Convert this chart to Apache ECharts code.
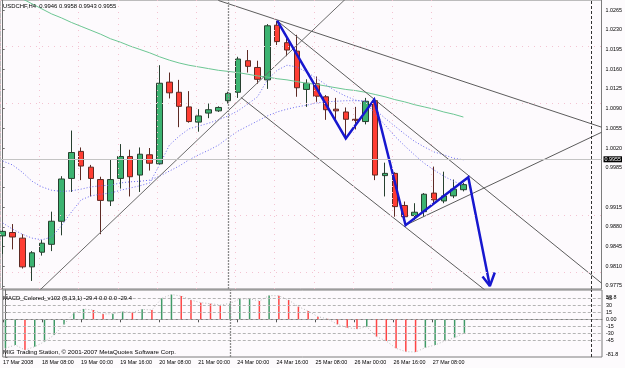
<!DOCTYPE html>
<html lang="en">
<head>
<meta charset="UTF-8">
<title>USDCHF H4</title>
<script src="https://cdn.jsdelivr.net/npm/echarts@6/dist/echarts.min.js"></script>
<style>
  html, body { margin: 0; padding: 0; background: #fdfbfd; }
  #chart { width: 625px; height: 368px; }
</style>
</head>
<body>
<div id="chart"></div>
<script>
// H4 bars, one per index 0..47
const opens = [
  0.9864, 0.9870, 0.9860, 0.9809, 0.9835, 0.9849, 0.9890, 0.9966, 1.0014, 0.9986,
  0.9964, 0.9926, 0.9966, 1.0005, 0.9972, 1.0008, 0.9992, 1.0137, 1.0119, 1.0093,
  1.0066, 1.0082, 1.0086, 1.0104, 1.0119, 1.0175, 1.0163, 1.0141, 1.0238, 1.0207,
  1.0192, 1.0124, 1.0134, 1.0111, 1.0089, 1.0084, 1.0071, 1.0067, 1.0104, 0.9971,
  0.9975, 0.9918, 0.9900, 0.9907, 0.9940, 0.9926, 0.9935, 0.9946
];
const closes = [
  0.9872, 0.9862, 0.9809, 0.9834, 0.9851, 0.9890, 0.9965, 1.0012, 0.9988, 0.9966,
  0.9927, 0.9964, 1.0005, 0.9969, 1.0009, 0.9993, 1.0135, 1.0118, 1.0094, 1.0067,
  1.0077, 1.0088, 1.0092, 1.0117, 1.0178, 1.0165, 1.0142, 1.0237, 1.0209, 1.0194,
  1.0127, 1.0135, 1.0112, 1.0088, 1.0086, 1.0071, 1.0069, 1.0103, 0.9972, 0.9975,
  0.9916, 0.9898, 0.9906, 0.9938, 0.9928, 0.9935, 0.9947, 0.9955
];
const lows = [
  0.9832, 0.9840, 0.9806, 0.9784, 0.9829, 0.9837, 0.9865, 0.9942, 0.9963, 0.9934,
  0.9867, 0.9917, 0.9948, 0.9934, 0.9942, 0.9980, 0.9990, 1.0108, 1.0057, 1.0065,
  1.0049, 1.0073, 1.0084, 1.0099, 1.0109, 1.0154, 1.0134, 1.0125, 1.0203, 1.0183,
  1.0111, 1.0093, 1.0102, 1.0070, 1.0068, 1.0037, 1.0053, 1.0062, 0.9963, 0.9934,
  0.9898, 0.9886, 0.9892, 0.9898, 0.9922, 0.9922, 0.9931, 0.9943
];
const highs = [
  0.9874, 0.9885, 0.9867, 0.9837, 0.9857, 0.9907, 0.9970, 1.0051, 1.0021, 0.9990,
  0.9969, 1.0000, 1.0027, 1.0017, 1.0021, 1.0020, 1.0167, 1.0154, 1.0141, 1.0121,
  1.0089, 1.0099, 1.0094, 1.0120, 1.0182, 1.0194, 1.0175, 1.0240, 1.0246, 1.0215,
  1.0221, 1.0142, 1.0147, 1.0114, 1.0109, 1.0092, 1.0093, 1.0109, 1.0108, 0.9994,
  0.9977, 0.9925, 0.9922, 0.9940, 0.9987, 0.9978, 0.9964, 0.9958
];

// moving averages
const maLong = [
  1.0304, 1.0295, 1.0285, 1.0276, 1.0267, 1.0258, 1.0251, 1.0243, 1.0236, 1.0229,
  1.0222, 1.0214, 1.0208, 1.0201, 1.0195, 1.0189, 1.0182, 1.0176, 1.0171, 1.0167,
  1.0164, 1.0161, 1.0158, 1.0156, 1.0154, 1.0151, 1.0148, 1.0146, 1.0143, 1.0141,
  1.0138, 1.0135, 1.0133, 1.0130, 1.0127, 1.0124, 1.0122, 1.0119, 1.0115, 1.0111,
  1.0106, 1.0102, 1.0097, 1.0093, 1.0089, 1.0084, 1.0080, 1.0075
];
const maFast = [
  0.9887, 0.9876, 0.9867, 0.9860, 0.9857, 0.9862, 0.9882, 0.9906, 0.9928, 0.9935,
  0.9938, 0.9940, 0.9945, 0.9949, 0.9953, 0.9958, 0.9990, 1.0025, 1.0041, 1.0054,
  1.0059, 1.0064, 1.0070, 1.0077, 1.0086, 1.0098, 1.0111, 1.0141, 1.0158, 1.0167,
  1.0164, 1.0155, 1.0144, 1.0132, 1.0121, 1.0112, 1.0105, 1.0102, 1.0080, 1.0061,
  1.0041, 1.0024, 1.0008, 0.9993, 0.9981, 0.9970, 0.9961, 0.9954
];
const maSlow = [
  0.9997, 0.9990, 0.9977, 0.9961, 0.9951, 0.9945, 0.9943, 0.9944, 0.9947, 0.9951,
  0.9953, 0.9954, 0.9958, 0.9960, 0.9961, 0.9963, 0.9970, 0.9979, 0.9988, 0.9999,
  1.0008, 1.0016, 1.0025, 1.0038, 1.0050, 1.0059, 1.0068, 1.0077, 1.0084, 1.0089,
  1.0093, 1.0096, 1.0100, 1.0102, 1.0103, 1.0104, 1.0104, 1.0104, 1.0088, 1.0073,
  1.0059, 1.0045, 1.0032, 1.0022, 1.0013, 1.0008, 1.0002, 0.9999
];

// MACD_Colored histogram
const macd = [
  -63, -55.7, -66.6, -59.4, -48.5, -34, -11, 13, 22.3, 20.2,
  11.5, 12, 16.6, 15.1, 21.6, 20.2, 45.5, 53.8, 50.5, 41.9,
  36.1, 33.9, 31, 34.6, 44, 44.5, 39.7, 51.5, 51, 41.9,
  27.4, 18, 5.7, 1, -10.9, -18.1, -21, -16, -37.7, -47,
  -63, -70.2, -71, -61.5, -55.7, -47, -39.8, -29.4
];
const macdLevels = [45, 30, 15, 0, -15, -30, -45];
const macdTicks = [-81.8, -45, -30, -15, 0, 15, 30, 45];
const macdMax = 53.8;

// drawn objects: [bar index, price]
const riseLine = [[3.5, 0.9763], [35.0, 1.0285]];
const topLine = [[22.0, 1.0282], [61.1, 1.0057]];
const midLine = [[28.0, 1.0246], [61.1, 0.9780]];
const lowLine = [[24.3, 1.0110], [50.5, 0.9750]];
const wedgeLine = [[41.1, 0.9883], [61.1, 1.0048]];
const zigzag = [[28.0, 1.0246], [35.0, 1.0037], [37.9, 1.0106], [41.1, 0.9883], [47.5, 0.9968], [49.7, 0.9775]];
const arrowHead = [[48.95, 0.9792], [49.7, 0.9775], [50.2, 0.9799]];

const priceTicks = [1.0265, 1.0230, 1.0195, 1.0160, 1.0125, 1.0090, 1.0055, 1.0020, 0.9985, 0.9950, 0.9915, 0.9880, 0.9845, 0.9810, 0.9775];
const dateIdx = [0, 4, 8, 12, 16, 20, 24, 28, 32, 36, 40, 44];
const dateLabels = ['17 Mar 2008', '18 Mar 08:00', '19 Mar 00:00', '19 Mar 16:00', '20 Mar 08:00', '21 Mar 00:00',
  '24 Mar 00:00', '24 Mar 16:00', '25 Mar 08:00', '26 Mar 00:00', '26 Mar 16:00', '27 Mar 08:00'];
const weekSep = 23;
const futureBar = 60;

const FONT = "'Liberation Sans', Arial, sans-serif";
const AXIS_FS = 5.4;
const last = closes.length - 1;
const lastPrice = closes[last];

const chart = echarts.init(document.getElementById('chart'));

const idx = a => a.map((v, i) => [i, v]);
const candles = opens.map((o, i) => [i, o, closes[i], lows[i], highs[i]]);
const tickPos = dateIdx.map(i => i - 0.25);
const pinkGrid = { color: '#f3c3d1', width: 1, type: [1, 5] };

const thinLine = (data, color) => ({
  type: 'line', xAxisIndex: 0, yAxisIndex: 0, data: data, symbol: 'none', silent: true,
  lineStyle: { color: color || '#5c5c5c', width: 1 }
});
const titleText = size => ({ fontFamily: FONT, fontSize: size, fontWeight: 'normal', color: '#000' });

chart.setOption({
  animation: false,
  backgroundColor: '#fdfbfd',
  title: [
    { text: 'USDCHF,H4  ' + [opens[last], highs[last], lows[last], closes[last]].map(v => v.toFixed(4)).join(' '),
      left: 3, top: 3.5, padding: 0, textStyle: titleText(5.9) },
    { text: 'MACD_Colored_v102 (5,13,1) ' + macd[last].toFixed(1) + ' 0.0 0.0 ' + macd[last].toFixed(1),
      left: 3, top: 295, padding: 0, textStyle: titleText(5.9) },
    { text: 'MIG Trading Station, © 2001-2007 MetaQuotes Software Corp.',
      left: 3, top: 349.5, padding: 0, textStyle: titleText(6.2) }
  ],
  grid: [
    { left: 0, top: 0, width: 602, height: 289, show: true, borderColor: '#7c7c7c', borderWidth: 1, backgroundColor: '#fdfafd' },
    { left: 0, top: 290, width: 602, height: 67, show: true, borderColor: '#7c7c7c', borderWidth: 1, backgroundColor: '#fdfafd' }
  ],
  xAxis: [
    { gridIndex: 0, type: 'value', min: -0.275, max: 61.09, show: false },
    { gridIndex: 1, type: 'value', min: -0.275, max: 61.09,
      axisLine: { show: true, lineStyle: { color: '#7c7c7c' } },
      axisTick: { show: true, customValues: tickPos, length: 3, lineStyle: { color: '#555' } },
      axisLabel: { customValues: tickPos, formatter: v => dateLabels[dateIdx.indexOf(Math.round(v))] || '',
        align: 'left', margin: 3.5, hideOverlap: false, showMinLabel: true, showMaxLabel: true,
        fontFamily: FONT, fontSize: AXIS_FS, color: '#000' },
      splitLine: { show: false } }
  ],
  yAxis: [
    { gridIndex: 0, type: 'value', position: 'right', min: 0.97697, max: 1.02828, scale: true,
      axisLine: { show: true, lineStyle: { color: '#6e6e6e' } },
      axisTick: { show: true, customValues: priceTicks, length: 2, lineStyle: { color: '#6e6e6e' } },
      axisLabel: { customValues: priceTicks.filter(v => Math.abs(v - lastPrice) > 0.001), formatter: v => v.toFixed(4),
        margin: 4, hideOverlap: false, showMinLabel: true, showMaxLabel: true,
        fontFamily: FONT, fontSize: AXIS_FS, color: '#000' },
      splitLine: { show: false } },
    { gridIndex: 1, type: 'value', position: 'right', min: -81.8, max: 63.6,
      axisLine: { show: true, lineStyle: { color: '#6e6e6e' } },
      axisTick: { show: true, customValues: macdTicks.concat([macdMax]), length: 2, lineStyle: { color: '#6e6e6e' } },
      axisLabel: { customValues: macdTicks, formatter: v => v === 0 ? '0.00' : String(v),
        hideOverlap: false, showMinLabel: true, showMaxLabel: true,
        verticalAlignMinLabel: 'bottom',
        margin: 4, fontFamily: FONT, fontSize: AXIS_FS, color: '#000' },
      splitLine: { show: false } }
  ],
  series: [
    // long MA + chart grid / separators
    {
      type: 'line', xAxisIndex: 0, yAxisIndex: 0, data: idx(maLong), symbol: 'none', silent: true,
      lineStyle: { color: '#6cc693', width: 1 },
      markLine: {
        silent: true, symbol: 'none', animation: false,
        label: { show: false },
        data: [
          ...priceTicks.map(v => ({ yAxis: v, lineStyle: pinkGrid })),
          ...tickPos.map(v => ({ xAxis: v, lineStyle: pinkGrid })),
          { xAxis: weekSep, lineStyle: { color: '#8a8a8a', width: 1.3, type: [2, 1] } },
          { xAxis: futureBar, lineStyle: { color: '#333', width: 1, type: [3, 2] } },
          { yAxis: lastPrice, lineStyle: { color: '#c4c4c4', width: 1, type: 'solid' },
            label: { show: true, position: 'end', distance: 2, formatter: lastPrice.toFixed(4),
              backgroundColor: '#000', color: '#fff', padding: [1, 1, 0, 1],
              fontFamily: FONT, fontSize: AXIS_FS } }
        ]
      }
    },
    { type: 'line', xAxisIndex: 0, yAxisIndex: 0, data: idx(maSlow), symbol: 'none', silent: true,
      lineStyle: { color: '#6b6bf0', width: 1, type: [1, 2] } },
    { type: 'line', xAxisIndex: 0, yAxisIndex: 0, data: idx(maFast), symbol: 'none', silent: true,
      lineStyle: { color: '#6b6bf0', width: 1, type: [1, 2] } },
    {
      type: 'candlestick', xAxisIndex: 0, yAxisIndex: 0, data: candles,
      dimensions: ['bar', 'open', 'close', 'lowest', 'highest'],
      encode: { x: 0, y: [1, 2, 3, 4] },
      barWidth: 6, silent: true,
      itemStyle: { color: '#3cb371', color0: '#ff3d33', borderColor: '#27402f', borderColor0: '#5e2a24', borderWidth: 1 }
    },
    thinLine(riseLine, '#6a6a6a'),
    thinLine(topLine),
    thinLine(midLine),
    thinLine(lowLine),
    thinLine(wedgeLine),
    { type: 'line', xAxisIndex: 0, yAxisIndex: 0, data: zigzag, symbol: 'none', silent: true,
      lineStyle: { color: '#1717cf', width: 2.5, join: 'miter' } },
    { type: 'line', xAxisIndex: 0, yAxisIndex: 0, data: arrowHead, symbol: 'none', silent: true,
      lineStyle: { color: '#1717cf', width: 2.5 } },
    // MACD panel
    {
      type: 'bar', xAxisIndex: 1, yAxisIndex: 1, data: idx(macd), barWidth: 1.5, silent: true,
      itemStyle: { color: p => (p.dataIndex === 0 || macd[p.dataIndex] >= macd[p.dataIndex - 1]) ? '#3f9a66' : '#ff4545' },
      markLine: {
        silent: true, symbol: 'none', animation: false, label: { show: false },
        data: [
          ...macdLevels.map(v => ({ yAxis: v, lineStyle: { color: '#b4b4b4', width: 1, type: [3, 2] } })),
          { xAxis: weekSep, lineStyle: { color: '#8a8a8a', width: 1.3, type: [2, 1] } },
          { xAxis: futureBar, lineStyle: { color: '#333', width: 1, type: [3, 2] } },
          // window maximum, labelled on the scale like MT4 does
          { yAxis: macdMax, lineStyle: { color: 'rgba(0,0,0,0)', width: 0 },
            label: { show: true, position: 'end', distance: 4, formatter: String(macdMax),
              verticalAlign: 'top', fontFamily: FONT, fontSize: AXIS_FS, color: '#000' } }
        ]
      }
    },
    { type: 'line', xAxisIndex: 1, yAxisIndex: 1, data: idx(macd), symbol: 'none', silent: true,
      lineStyle: { color: '#bdbdbd', width: 1, type: [1, 2] } }
  ]
});
</script>
</body>
</html>
